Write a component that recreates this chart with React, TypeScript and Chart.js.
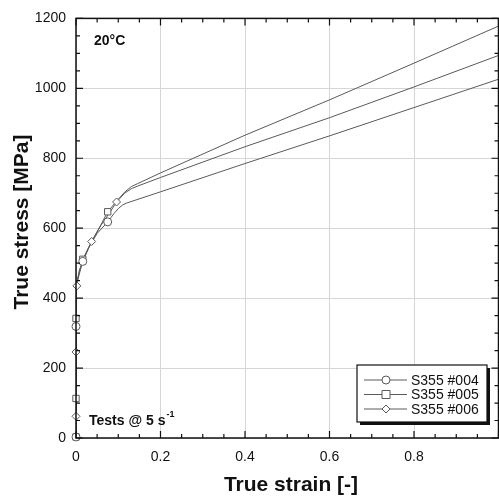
import React, { useEffect, useRef } from "react";
import { Chart, registerables } from "chart.js";
Chart.register(...registerables);

const FONT = "'Liberation Sans', Arial, sans-serif";

// S355 #004 (lowest curve, circles)
const strain004 = [0, 0, 0.001, 0.003, 0.008, 0.016, 0.03, 0.05, 0.075, 0.09, 0.1, 0.11, 0.12, 0.135, 0.2, 0.4, 0.6, 0.8, 1.0];
const stress004 = [0, 300, 420, 450, 480, 505, 545, 585, 618, 642, 656, 666, 672, 678, 704, 785, 864, 945, 1026];
const markStrain004 = [0, 0, 0.016, 0.075];
const markStress004 = [3, 319, 505, 618];

// S355 #005 (top curve, squares)
const strain005 = [0, 0, 0.002, 0.008, 0.016, 0.037, 0.06, 0.075, 0.096, 0.115, 0.131, 0.145, 0.2, 0.4, 0.6, 0.8, 1.0];
const stress005 = [0, 330, 440, 475, 511, 562, 612, 647, 677, 703, 719, 727, 758, 866, 967, 1072, 1178];
const markStrain005 = [0, 0, 0, 0.016, 0.075];
const markStress005 = [3, 113, 342, 511, 647];

// S355 #006 (middle curve, diamonds)
const strain006 = [0, 0, 0.002, 0.008, 0.016, 0.037, 0.06, 0.08, 0.096, 0.115, 0.131, 0.145, 0.2, 0.4, 0.6, 0.8, 1.0];
const stress006 = [0, 300, 435, 470, 505, 562, 610, 645, 675, 700, 713, 720, 745, 833, 916, 1004, 1094];
const markStrain006 = [0, 0, 0.002, 0.037, 0.096];
const markStress006 = [62, 246, 435, 562, 675];

const seriesNames = ["S355 #004", "S355 #005", "S355 #006"];
const seriesStyles = ["circle", "rect", "rectRot"];

const xTicks = [0, 0.2, 0.4, 0.6, 0.8];
const yTicks = [0, 200, 400, 600, 800, 1000, 1200];

const LINE = "#5a5a5a";

const pts = (xs: number[], ys: number[]) => xs.map((x, i) => ({ x, y: ys[i] }));

function drawMarker(ctx: CanvasRenderingContext2D, style: string, x: number, y: number) {
  ctx.save();
  ctx.fillStyle = "#fff";
  ctx.strokeStyle = LINE;
  ctx.lineWidth = 1;
  ctx.beginPath();
  if (style === "circle") ctx.arc(x, y, 4, 0, Math.PI * 2);
  else if (style === "rect") ctx.rect(x - 4, y - 4, 8, 8);
  else {
    ctx.moveTo(x, y - 4);
    ctx.lineTo(x + 4, y);
    ctx.lineTo(x, y + 4);
    ctx.lineTo(x - 4, y);
    ctx.closePath();
  }
  ctx.fill();
  ctx.stroke();
  ctx.restore();
}

const framePlugin = {
  id: "framePlugin",
  afterDraw(chart: any) {
    const { ctx, chartArea: a, scales } = chart;
    const xs = scales.x, ys = scales.y;
    ctx.save();
    ctx.strokeStyle = "#111";
    ctx.lineWidth = 1.5;
    ctx.strokeRect(a.left, a.top, a.right - a.left, a.bottom - a.top);
    ctx.lineWidth = 1.2;
    ctx.beginPath();
    for (let v = 0; v <= 1.0001; v += 0.05) {
      const px = xs.getPixelForValue(v);
      const major = Math.abs(v / 0.2 - Math.round(v / 0.2)) < 1e-6;
      const len = major ? 7 : 4;
      ctx.moveTo(px, a.bottom); ctx.lineTo(px, a.bottom - len);
      ctx.moveTo(px, a.top); ctx.lineTo(px, a.top + len);
    }
    for (let v = 0; v <= 1200; v += 50) {
      const py = ys.getPixelForValue(v);
      const len = v % 200 === 0 ? 7 : 4;
      ctx.moveTo(a.left, py); ctx.lineTo(a.left + len, py);
      ctx.moveTo(a.right, py); ctx.lineTo(a.right - len, py);
    }
    ctx.stroke();

    // axis titles
    ctx.fillStyle = "#111";
    ctx.font = `bold 21px ${FONT}`;
    ctx.textAlign = "center";
    ctx.textBaseline = "middle";
    ctx.fillText("True strain [-]", 291, 485);
    ctx.save();
    ctx.translate(22, 222);
    ctx.rotate(-Math.PI / 2);
    ctx.fillText("True stress [MPa]", 0, 0);
    ctx.restore();

    // annotations
    ctx.font = `bold 14px ${FONT}`;
    ctx.textBaseline = "alphabetic";
    ctx.textAlign = "left";
    ctx.fillText("20°C", 94, 45);
    ctx.fillText("Tests @ 5 s", 89, 425);
    const w = ctx.measureText("Tests @ 5 s").width;
    ctx.font = `bold 9px ${FONT}`;
    ctx.fillText("-1", 89 + w + 1, 417);

    // legend
    const lx = 357, ly = 365, lw = 130, lh = 57;
    ctx.fillStyle = "#111";
    ctx.fillRect(lx + 3, ly + 3, lw, lh);
    ctx.fillStyle = "#fff";
    ctx.fillRect(lx, ly, lw, lh);
    ctx.strokeStyle = "#111";
    ctx.lineWidth = 1.2;
    ctx.strokeRect(lx, ly, lw, lh);
    ctx.font = `14px ${FONT}`;
    ctx.textBaseline = "middle";
    seriesNames.forEach((name, i) => {
      const yy = ly + 15 + i * 14.5;
      ctx.strokeStyle = LINE;
      ctx.lineWidth = 1;
      ctx.beginPath();
      ctx.moveTo(364, yy); ctx.lineTo(407, yy);
      ctx.stroke();
      drawMarker(ctx, seriesStyles[i], 386, yy);
      ctx.fillStyle = "#111";
      ctx.fillText(name, 411, yy + 1);
    });
    ctx.restore();
  },
};

export default function App() {
  const ref = useRef<HTMLCanvasElement>(null);
  useEffect(() => {
    if (!ref.current) return;
    const lineDs = (xs: number[], ys: number[], label: string) => ({
      label,
      data: pts(xs, ys),
      showLine: true,
      borderColor: LINE,
      borderWidth: 1,
      pointRadius: 0,
      tension: 0,
      order: 2,
    });
    const markDs = (xs: number[], ys: number[], style: string, label: string) => ({
      label,
      data: pts(xs, ys),
      showLine: false,
      pointStyle: style,
      pointRadius: style === "rect" ? 4.5 : 4,
      pointBackgroundColor: "#fff",
      pointBorderColor: LINE,
      pointBorderWidth: 1,
      clip: false as any,
      order: 1,
    });
    const chart = new Chart(ref.current, {
      type: "scatter",
      data: {
        datasets: [
          lineDs(strain004, stress004, seriesNames[0]),
          lineDs(strain005, stress005, seriesNames[1]),
          lineDs(strain006, stress006, seriesNames[2]),
          markDs(markStrain004, markStress004, "circle", seriesNames[0] + " m"),
          markDs(markStrain005, markStress005, "rect", seriesNames[1] + " m"),
          markDs(markStrain006, markStress006, "rectRot", seriesNames[2] + " m"),
        ] as any,
      },
      options: {
        responsive: false,
        animation: false,
        layout: { padding: { top: 13, right: 1, left: 0, bottom: 0 } },
        plugins: { legend: { display: false }, tooltip: { enabled: false } },
        scales: {
          x: {
            type: "linear",
            min: 0,
            max: 1.0,
            afterFit: (s: any) => { s.height = 61; },
            afterBuildTicks: (s: any) => { s.ticks = xTicks.map((v) => ({ value: v })); },
            grid: { color: "#d6d6d6", lineWidth: 1, drawTicks: false },
            border: { display: false },
            ticks: {
              padding: 11,
              color: "#111",
              font: { family: FONT, size: 14 },
              callback: (v: any) => String(Math.round(v * 10) / 10),
            },
          },
          y: {
            type: "linear",
            min: 0,
            max: 1200,
            afterFit: (s: any) => { s.width = 76; },
            afterBuildTicks: (s: any) => { s.ticks = yTicks.map((v) => ({ value: v })); },
            grid: { color: "#d6d6d6", lineWidth: 1, drawTicks: false },
            border: { display: false },
            ticks: {
              padding: 10,
              color: "#111",
              font: { family: FONT, size: 14 },
              callback: (v: any) => String(v),
            },
          },
        },
      },
      plugins: [framePlugin],
    });
    return () => chart.destroy();
  }, []);
  return (
    <div style={{ position: "fixed", left: 0, top: 0, width: 499, height: 499, overflow: "hidden", background: "#fff" }}>
      <canvas ref={ref} width={504} height={499} style={{ display: "block", width: 504, height: 499 }} />
    </div>
  );
}
